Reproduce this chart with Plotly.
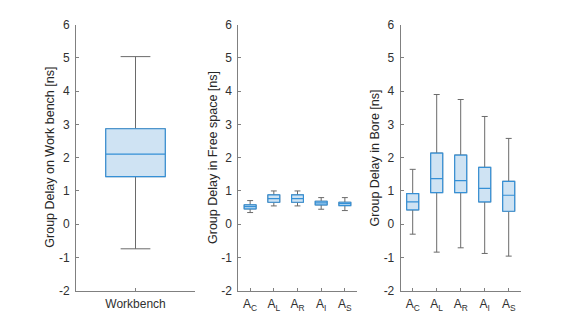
import plotly.graph_objects as go

# ---- data ----
wb_labels = ["Workbench"]
wb_lower = [-0.74]
wb_q1 = [1.43]
wb_median = [2.11]
wb_q3 = [2.87]
wb_upper = [5.04]

ant_labels = ["A<sub>C</sub>", "A<sub>L</sub>", "A<sub>R</sub>", "A<sub>I</sub>", "A<sub>S</sub>"]

fs_lower = [0.35, 0.55, 0.55, 0.45, 0.41]
fs_q1 = [0.46, 0.66, 0.66, 0.58, 0.56]
fs_median = [0.53, 0.77, 0.77, 0.64, 0.62]
fs_q3 = [0.58, 0.88, 0.88, 0.69, 0.66]
fs_upper = [0.71, 1.00, 1.00, 0.80, 0.80]

bore_lower = [-0.30, -0.84, -0.71, -0.88, -0.96]
bore_q1 = [0.43, 0.95, 0.95, 0.67, 0.39]
bore_median = [0.67, 1.37, 1.31, 1.08, 0.87]
bore_q3 = [0.92, 2.14, 2.08, 1.71, 1.29]
bore_upper = [1.65, 3.90, 3.75, 3.24, 2.58]

y_tick_vals = [-2, -1, 0, 1, 2, 3, 4, 5, 6]
y_tick_text = ["-2", "-1", "0", "1", "2", "3", "4", "5", "6"]

y_titles = ["Group Delay on Work bench [ns]",
            "Group Delay in Free space [ns]",
            "Group Delay in Bore [ns]"]

# ---- styles ----
EDGE = "#3590d6"
FILL = "#cfe3f3"
WHISK = "#6a6a6a"
AXC = "#808080"
TXT = "#303030"
FONT = "Liberation Sans, Arial, sans-serif"

fig = go.Figure()


def add_boxes(lower, q1, med, q3, upper, xa, ya):
    xs = list(range(1, len(q1) + 1))
    fig.add_trace(go.Box(
        x=xs, q1=q1, median=med, q3=q3, lowerfence=lower, upperfence=upper,
        width=0.5, whiskerwidth=0.5, boxpoints=False,
        line=dict(color=WHISK, width=1), fillcolor="rgba(0,0,0,0)",
        xaxis=xa, yaxis=ya, showlegend=False, hoverinfo="skip"))
    fig.add_trace(go.Box(
        x=xs, q1=q1, median=med, q3=q3, lowerfence=q1, upperfence=q3,
        width=0.5, whiskerwidth=1, boxpoints=False,
        line=dict(color=EDGE, width=1.2), fillcolor=FILL,
        xaxis=xa, yaxis=ya, showlegend=False, hoverinfo="skip"))


add_boxes(wb_lower, wb_q1, wb_median, wb_q3, wb_upper, "x", "y")
add_boxes(fs_lower, fs_q1, fs_median, fs_q3, fs_upper, "x2", "y2")
add_boxes(bore_lower, bore_q1, bore_median, bore_q3, bore_upper, "x3", "y3")

W, H = 576, 327
ydom = [36.3 / H, 302.3 / H]
doms = [[76 / W, 195 / W], [238.3 / W, 356.7 / W], [400.7 / W, 520.7 / W]]

common_y = dict(range=[-2, 6], tickvals=y_tick_vals, ticktext=y_tick_text,
                ticks="inside", ticklen=3,
                tickcolor=AXC, showline=True, linecolor=AXC, linewidth=1, showgrid=False,
                zeroline=False, automargin=False, ticklabelstandoff=3,
                tickfont=dict(size=12, color=TXT, family=FONT),
                domain=ydom)
common_x = dict(ticks="inside", ticklen=3, tickcolor=AXC, showline=True, linecolor=AXC,
                linewidth=1, showgrid=False, zeroline=False, automargin=False,
                ticklabelstandoff=2,
                tickfont=dict(size=12, color=TXT, family=FONT))

annotations = []
for dom, title in zip(doms, y_titles):
    annotations.append(dict(
        text=title, xref="paper", yref="paper", x=dom[0] - 26 / W, y=sum(ydom) / 2,
        xanchor="center", yanchor="middle", textangle=-90, showarrow=False,
        font=dict(size=12.5, color="#262626", family=FONT)))

fig.update_layout(
    template="none",
    width=W, height=H, margin=dict(l=0, r=0, t=0, b=0, pad=0),
    paper_bgcolor="white", plot_bgcolor="white", boxmode="overlay",
    font=dict(family=FONT),
    xaxis=dict(common_x, domain=doms[0], range=[0.5, 1.5], tickvals=[1], ticktext=wb_labels, anchor="y"),
    xaxis2=dict(common_x, domain=doms[1], range=[0.5, 5.5], tickvals=[1, 2, 3, 4, 5], ticktext=ant_labels, anchor="y2"),
    xaxis3=dict(common_x, domain=doms[2], range=[0.5, 5.5], tickvals=[1, 2, 3, 4, 5], ticktext=ant_labels, anchor="y3"),
    yaxis=dict(common_y, anchor="x"),
    yaxis2=dict(common_y, anchor="x2"),
    yaxis3=dict(common_y, anchor="x3"),
    annotations=annotations,
)

fig.write_html("out.html", config={"displayModeBar": False},
               post_script="document.body.style.margin='0px';")
